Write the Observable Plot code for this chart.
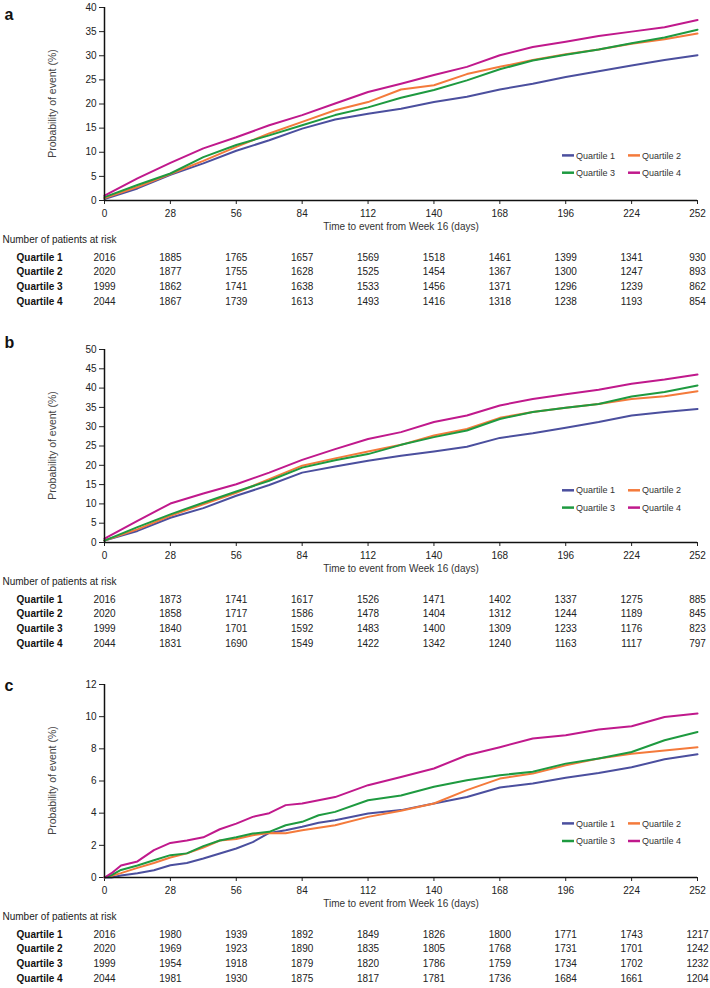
<!DOCTYPE html>
<html><head><meta charset="utf-8">
<script src="https://cdn.jsdelivr.net/npm/d3@7"></script>
<script src="https://cdn.jsdelivr.net/npm/@observablehq/plot@0.6"></script>
<style>
body{margin:0;background:#fff;}
#wrap{position:relative;width:710px;height:988px;overflow:hidden;font-family:"Liberation Sans",Arial,sans-serif;}
#wrap svg{position:absolute;left:0;}
</style></head><body><div id="wrap"></div>
<script>
const quartiles = ["Quartile 1", "Quartile 2", "Quartile 3", "Quartile 4"];
const colors = ["#4b4f9e", "#f47a3b", "#1e9a40", "#c0198c"];
const xTicks = [0, 28, 56, 84, 112, 140, 168, 196, 224, 252];
const xTitle = "Time to event from Week 16 (days)";
const yTitle = "Probability of event (%)";
const riskTitle = "Number of patients at risk";

// Panel a
const daysA = [0, 14, 28, 42, 56, 70, 84, 98, 112, 126, 140, 154, 168, 182, 196, 210, 224, 238, 252];
const aQ1 = [0.3, 2.5, 5.3, 7.7, 10.3, 12.5, 14.9, 16.8, 18.0, 19.0, 20.4, 21.5, 23.0, 24.2, 25.6, 26.8, 28.0, 29.1, 30.1];
const aQ2 = [0.5, 2.8, 5.5, 8.2, 11.1, 13.9, 16.3, 18.7, 20.4, 23.0, 23.9, 26.2, 27.7, 29.1, 30.3, 31.3, 32.5, 33.4, 34.6];
const aQ3 = [0.7, 3.2, 5.6, 9.0, 11.5, 13.5, 15.6, 17.7, 19.3, 21.3, 22.9, 24.9, 27.2, 29.0, 30.2, 31.3, 32.6, 33.8, 35.4];
const aQ4 = [1.0, 4.6, 7.8, 10.8, 13.1, 15.6, 17.7, 20.1, 22.5, 24.2, 26.0, 27.7, 30.1, 31.8, 32.9, 34.1, 35.0, 35.9, 37.4];
const aRisk1 = [2016, 1885, 1765, 1657, 1569, 1518, 1461, 1399, 1341, 930];
const aRisk2 = [2020, 1877, 1755, 1628, 1525, 1454, 1367, 1300, 1247, 893];
const aRisk3 = [1999, 1862, 1741, 1638, 1533, 1456, 1371, 1296, 1239, 862];
const aRisk4 = [2044, 1867, 1739, 1613, 1493, 1416, 1318, 1238, 1193, 854];

// Panel b
const daysB = [0, 14, 28, 42, 56, 70, 84, 98, 112, 126, 140, 154, 168, 182, 196, 210, 224, 238, 252];
const bQ1 = [0.5, 3.0, 6.4, 8.9, 12.1, 14.9, 18.1, 19.7, 21.2, 22.5, 23.6, 24.8, 27.1, 28.3, 29.7, 31.2, 32.9, 33.8, 34.6];
const bQ2 = [0.5, 3.4, 6.9, 9.9, 12.9, 16.4, 19.9, 21.8, 23.6, 25.3, 27.7, 29.4, 32.3, 33.8, 34.9, 35.9, 37.2, 37.9, 39.2];
const bQ3 = [0.5, 4.0, 7.3, 10.3, 13.2, 16.0, 19.4, 21.3, 22.9, 25.3, 27.3, 29.0, 32.0, 33.8, 34.9, 35.9, 37.8, 39.0, 40.7];
const bQ4 = [1.0, 5.6, 10.1, 12.7, 15.1, 18.1, 21.4, 24.2, 26.8, 28.6, 31.2, 32.9, 35.5, 37.2, 38.4, 39.6, 41.1, 42.2, 43.5];
const bRisk1 = [2016, 1873, 1741, 1617, 1526, 1471, 1402, 1337, 1275, 885];
const bRisk2 = [2020, 1858, 1717, 1586, 1478, 1404, 1312, 1244, 1189, 845];
const bRisk3 = [1999, 1840, 1701, 1592, 1483, 1400, 1309, 1233, 1176, 823];
const bRisk4 = [2044, 1831, 1690, 1549, 1422, 1342, 1240, 1163, 1117, 797];

// Panel c
const daysC = [0, 3, 7, 14, 21, 28, 35, 42, 49, 56, 63, 70, 77, 84, 91, 98, 112, 126, 140, 154, 168, 182, 196, 210, 224, 238, 252];
const cQ1 = [0, 0, 0.12, 0.27, 0.45, 0.76, 0.9, 1.18, 1.49, 1.8, 2.2, 2.77, 2.94, 3.15, 3.4, 3.56, 3.98, 4.19, 4.6, 5.0, 5.6, 5.85, 6.2, 6.5, 6.85, 7.35, 7.66];
const cQ2 = [0, 0.1, 0.27, 0.6, 0.9, 1.24, 1.5, 1.86, 2.3, 2.4, 2.63, 2.77, 2.75, 2.94, 3.1, 3.25, 3.77, 4.15, 4.6, 5.43, 6.15, 6.46, 6.98, 7.4, 7.7, 7.9, 8.1];
const cQ3 = [0, 0.15, 0.47, 0.75, 1.07, 1.39, 1.5, 1.95, 2.3, 2.5, 2.73, 2.84, 3.25, 3.46, 3.87, 4.08, 4.8, 5.1, 5.64, 6.05, 6.36, 6.57, 7.08, 7.4, 7.8, 8.53, 9.05];
const cQ4 = [0, 0.27, 0.75, 1.0, 1.7, 2.15, 2.3, 2.5, 3.0, 3.35, 3.77, 4.0, 4.5, 4.6, 4.8, 5.0, 5.74, 6.25, 6.78, 7.6, 8.1, 8.64, 8.85, 9.2, 9.4, 9.98, 10.2];
const cRisk1 = [2016, 1980, 1939, 1892, 1849, 1826, 1800, 1771, 1743, 1217];
const cRisk2 = [2020, 1969, 1923, 1890, 1835, 1805, 1768, 1731, 1701, 1242];
const cRisk3 = [1999, 1954, 1918, 1879, 1820, 1786, 1759, 1734, 1702, 1232];
const cRisk4 = [2044, 1981, 1930, 1875, 1817, 1781, 1736, 1684, 1661, 1204];

const panels = [
  {letter: "a", days: daysA, series: [aQ1, aQ2, aQ3, aQ4], risk: [aRisk1, aRisk2, aRisk3, aRisk4],
   yMax: 40, yStep: 5, top: 0, marginTop: 7, letterDy: 1, legendDy: [-44.6, -27.3]},
  {letter: "b", days: daysB, series: [bQ1, bQ2, bQ3, bQ4], risk: [bRisk1, bRisk2, bRisk3, bRisk4],
   yMax: 50, yStep: 5, top: 325, marginTop: 24, letterDy: -12.8, legendDy: [-51.7, -34.4]},
  {letter: "c", days: daysC, series: [cQ1, cQ2, cQ3, cQ4], risk: [cRisk1, cRisk2, cRisk3, cRisk4],
   yMax: 12, yStep: 2, top: 660, marginTop: 24, letterDy: -4.8, legendDy: [-53.6, -36]}
];

const W = 710, ML = 104, MR = 13, FRAME = 193, MB = 110;
const rowDy = [60.3, 74.8, 89.5, 104.2];
const wrap = document.getElementById("wrap");

for (const p of panels) {
  const rows = [];
  p.series.forEach((vals, i) => vals.forEach((v, j) => rows.push({day: p.days[j], value: v, q: quartiles[i]})));
  const H = p.marginTop + FRAME + MB;
  const yTicks = d3.range(0, p.yMax + 0.001, p.yStep);
  const marks = [
    Plot.axisY({ticks: yTicks, tickSize: 5, tickPadding: 3, label: null, fontSize: 10, color: "#222"}),
    Plot.axisX({ticks: xTicks, tickSize: 4, tickPadding: 5, label: null, fontSize: 10, color: "#222"}),
    Plot.line(rows, {x: "day", y: "value", z: "q", stroke: "q", strokeWidth: 2, curve: "linear"}),
    Plot.ruleX([0], {stroke: "#111", strokeWidth: 1.5}),
    Plot.ruleY([0], {stroke: "#111", strokeWidth: 1.5}),
    Plot.text([p.letter], {text: d => d, frameAnchor: "top-left", dx: -100, dy: p.letterDy, textAnchor: "start", fontSize: 16, fontWeight: "bold", fill: "#111"}),
    Plot.text([xTitle], {text: d => d, frameAnchor: "bottom", dy: 29, fontSize: 10, fill: "#333"}),
    Plot.text([riskTitle], {text: d => d, frameAnchor: "bottom-left", dx: -102, dy: 42.8, textAnchor: "start", fontSize: 10, fill: "#222"})
  ];
  quartiles.forEach((q, i) => {
    marks.push(Plot.text([q], {text: d => d, frameAnchor: "bottom-left", dx: -88, dy: rowDy[i], textAnchor: "start", fontSize: 10, fontWeight: "bold", fill: "#111"}));
    marks.push(Plot.text(xTicks.map((d, j) => ({day: d, n: p.risk[i][j]})), {x: "day", text: d => String(d.n), frameAnchor: "bottom", dy: rowDy[i], fontSize: 10, fill: "#222"}));
  });
  const chart = Plot.plot({
    width: W, height: H,
    marginLeft: ML, marginRight: MR, marginTop: p.marginTop, marginBottom: MB,
    x: {domain: [0, 252]},
    y: {domain: [0, p.yMax]},
    color: {domain: quartiles, range: colors},
    style: {fontFamily: '"Liberation Sans", Arial, sans-serif', fontSize: "10px", background: "white", overflow: "visible"},
    marks
  });
  chart.style.top = p.top + "px";
  const svg = d3.select(chart);
  const fb = p.marginTop + FRAME;
  // rotated y-axis title, centred on the frame
  svg.append("text")
    .attr("transform", `translate(52,${p.marginTop + FRAME / 2}) rotate(-90)`)
    .attr("text-anchor", "middle").attr("dy", "0.35em")
    .attr("font-size", 10.5).attr("fill", "#444").text(yTitle);
  // legend inside the plot frame, bottom right
  const colX = [562, 628];
  const lg = svg.append("g").attr("font-size", 9).attr("fill", "#333").attr("text-anchor", "start");
  quartiles.forEach((q, i) => {
    const x0 = colX[i % 2], y0 = fb + p.legendDy[Math.floor(i / 2)];
    lg.append("line").attr("x1", x0).attr("x2", x0 + 12).attr("y1", y0).attr("y2", y0)
      .attr("stroke", colors[i]).attr("stroke-width", 2.5);
    lg.append("text").attr("x", x0 + 14).attr("y", y0).attr("dy", "0.35em").text(q);
  });
  wrap.appendChild(chart);
}
</script>
</body></html>
